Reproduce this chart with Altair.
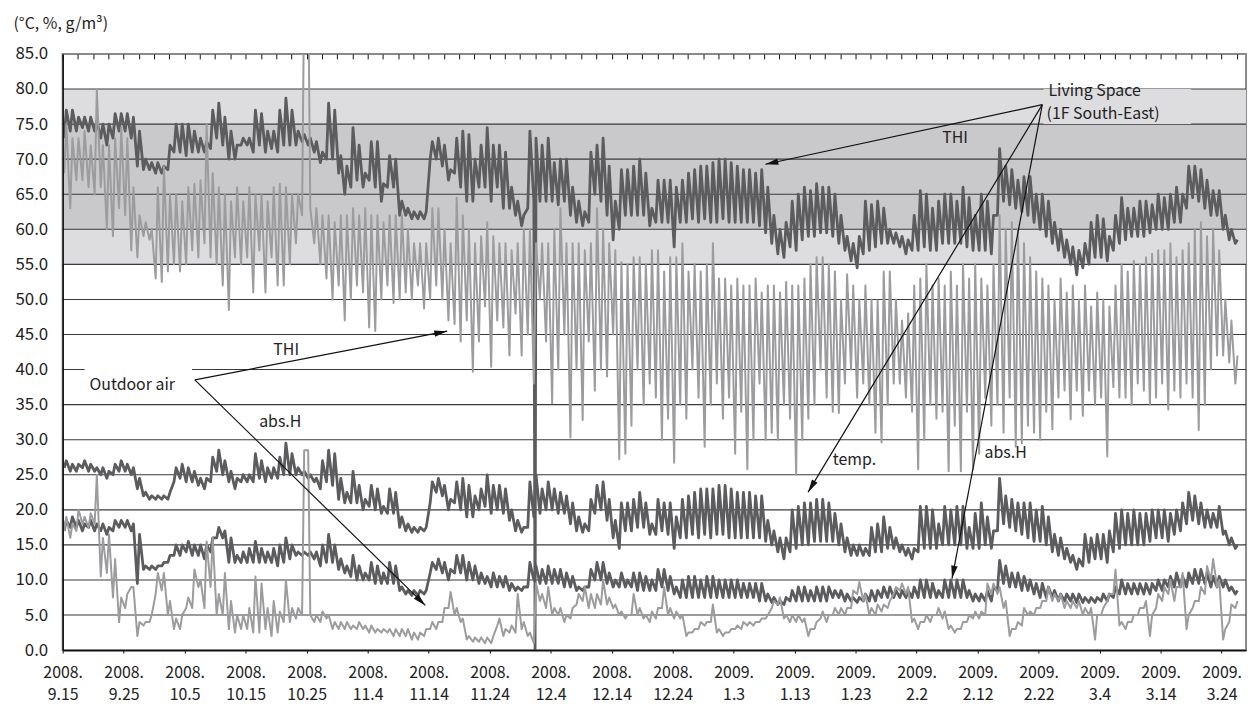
import json, math
import altair as alt
import pandas as pd

# ---------------- data ----------------
# day index 0 = 2008-09-15; two readings per day: early morning (am) and afternoon (pm)

LIV_THI_AM = [73, 74, 74, 74.5, 74, 74, 73, 72, 73, 74,
              74, 73, 69, 68.5, 68.5, 68, 68, 68.5, 71, 71,
              70.5, 71, 71, 71, 71.5, 73, 72, 70, 70, 72,
              72, 71, 72, 71, 71.5, 71, 72, 72, 72, 72.5,
              72, 71, 69.5, 70, 70, 68, 65, 66, 67, 66,
              67, 66, 64, 66, 66, 62, 62, 61.5, 61.5, 61.5,
              70, 70, 69, 67, 68, 66, 64, 64, 66, 66,
              64, 66, 63, 63, 62, 60.5, 63, 64, 64, 64,
              64, 63.5, 64, 62, 61, 60.5, 61, 65, 64, 62,
              58.5, 60, 62, 62, 62, 62, 60.5, 61, 61, 61,
              57.5, 61, 61, 61.5, 61, 61.5, 61, 61, 61.5, 61,
              61, 61, 61, 61, 60.5, 59.5, 58, 56.5, 56, 57.5,
              57, 58.5, 59, 59, 59.5, 59.5, 59, 58, 57, 55.5,
              54.5, 56.5, 57, 57.5, 58, 58, 58, 57.5, 56.5, 57,
              57, 57.5, 57, 57, 58, 58, 58, 58, 57.5, 57,
              57, 57, 56.5, 62, 64, 63.5, 63, 62.5, 62, 61,
              60, 59, 58, 57, 56, 55, 53.5, 54.5, 55, 56,
              56, 55.5, 57, 58, 58.5, 59, 59, 59, 59.5, 60,
              60, 60, 61, 61, 63, 64.5, 64, 63, 62, 62,
              60, 58.5, 58]
LIV_THI_PM = [77, 77, 76, 76, 76, 75.5, 75, 75, 76.5, 76.5,
              76.5, 76, 74, 70, 69.5, 69.5, 69, 72, 75, 75,
              75, 74, 73, 72.5, 77, 78, 76, 74, 72, 73,
              73, 77, 76.5, 74, 74, 77, 78.7, 77, 74, 73.5,
              73, 72.5, 71, 78, 77, 70.5, 69, 74.5, 72, 68,
              72.5, 72.5, 66.5, 70.5, 70, 64, 63, 62.5, 62.5, 62.5,
              72.5, 73, 72, 68.5, 73, 74, 73.5, 70, 72, 74.5,
              72, 72, 71, 66, 64, 62, 74, 73, 72, 73,
              69.5, 70, 70, 66, 64, 62.5, 71, 72, 73, 69,
              64, 68.5, 68.5, 69, 70, 68, 63, 67, 67, 67,
              66, 67, 68, 68.5, 69, 69, 69.5, 70, 70, 69.5,
              69, 68.5, 68.5, 68, 68.5, 66, 62, 60, 61, 64,
              65, 66, 65.5, 66.5, 66, 66, 65, 62, 59, 58,
              59, 64, 63.5, 64, 63, 60, 59.5, 59, 58.5, 62,
              65.5, 65, 63, 64, 65, 65, 64, 66, 64.5, 62,
              65, 64, 62, 71.5, 69, 68.5, 67, 67.5, 67.5, 65,
              65, 64, 61, 60, 58.5, 57.5, 57, 58, 61, 62,
              61.5, 59, 62, 64.5, 63, 63, 64, 64, 63.5, 65,
              64.5, 65, 66, 65, 69, 69, 68.5, 67, 65.5, 65.5,
              62, 60, 58.5]

OUT_THI_AM = [68, 63, 67, 67, 66, 65, 66, 60, 59, 63,
              62, 57, 56, 59, 58.5, 53, 52.5, 54, 55, 54,
              55, 57, 56, 58, 56, 55, 52, 48.5, 56, 55,
              56, 51, 57, 51, 56, 52, 52, 55, 58, 62,
              95, 58, 55, 53, 50, 52, 47, 50, 52, 51,
              46, 45.5, 50, 52, 49.5, 50, 51, 50, 52, 48.7,
              50, 52, 50, 47, 46.5, 44, 47, 39.7, 44, 49,
              40.4, 47, 46, 42, 48, 42, 45, 38, 50, 44,
              35.2, 40, 45, 30.3, 40, 32.8, 44, 37, 40, 39,
              45, 27.2, 28, 32, 40, 35, 38, 36, 30, 33,
              26.7, 35, 33, 40, 36, 29, 35, 38, 33, 36,
              28, 34, 25.8, 30, 38, 30, 31, 30, 35, 33,
              25, 30, 33, 35, 40, 36, 34, 33.8, 38, 40,
              36, 38, 35, 31, 29.6, 35, 38, 38, 36, 34,
              25.8, 30, 35, 33, 34, 25.5, 32, 25.5, 34, 25.8,
              28, 36, 32, 35, 31, 36, 29, 29.5, 32, 31,
              30, 34, 31.5, 36, 37, 32.9, 37, 33.4, 37, 35,
              36, 27.6, 37.5, 36, 36, 35, 38, 37, 35, 36,
              38, 34.3, 37, 36, 38, 36, 31.4, 35, 40, 42,
              42, 41, 38]
OUT_THI_PM = [75, 73, 73, 74, 72, 80, 72, 72, 73, 74.5,
              73, 66, 62, 61, 60, 66, 69, 65, 65, 64,
              66, 66.5, 67, 75, 68, 66, 65, 64, 66, 64,
              66, 65, 65, 64, 66, 66.5, 66, 65, 65, 95,
              63, 63, 62, 62, 61, 62, 62, 63, 62, 63,
              62, 62, 61, 62, 62, 62, 60, 58, 58, 58,
              63, 63, 60, 58, 64.5, 62, 60, 58, 59, 61,
              59, 58, 58, 57, 58, 60, 60, 58, 58, 58,
              60, 63, 58, 58, 58, 57, 58, 63, 60, 58,
              57, 55.3, 55, 56, 56, 55, 57, 57, 54, 56,
              56, 58, 54, 55, 54, 55, 58, 53, 53, 52,
              53, 52, 52, 53, 51, 52, 52, 51, 52.5, 52,
              52, 53, 55, 56, 56, 55, 54, 50, 53.6, 52,
              50, 52, 50, 49.9, 54, 54, 50, 47, 48, 52,
              53, 55, 52, 53, 52, 54, 52, 55, 53, 55,
              53, 52, 55, 62, 60, 61, 60, 58, 56, 54,
              53, 52, 50, 53, 51, 52, 50, 52, 49, 51,
              50, 49, 52, 55, 54, 55.5, 55, 56, 56.5, 57,
              57, 58, 56, 57, 58, 60, 61, 59, 60, 57,
              50, 47, 42]

LIV_T_AM = [26, 25.5, 25.5, 26, 25.5, 25.5, 25, 24.5, 25, 25.5,
            25.5, 25, 23, 22, 21.5, 21.5, 21.5, 21.5, 24, 24.5,
            24, 24, 23.5, 23, 24, 25.5, 25, 24, 23, 24,
            24, 24, 24.5, 24, 24.5, 24.5, 25, 25, 25, 25,
            24.5, 24, 23, 24, 23.5, 21.5, 21, 21, 21, 20,
            20.5, 20, 19.5, 19.5, 19.5, 17.5, 17, 16.8, 16.8, 17,
            21, 22.5, 22, 20, 21, 20, 19, 19, 20, 20.5,
            19.5, 20, 19.5, 18.5, 17, 16.8, 17.5, 19, 19.5, 20,
            20, 19.5, 19.5, 18, 17, 16.8, 17, 19.5, 20, 18.5,
            16, 14.5, 17, 17, 17.5, 17.5, 16.5, 16.5, 17, 16.5,
            14.5, 16, 16, 16.5, 16, 16.5, 16, 16.5, 16.5, 16,
            16, 16, 16, 16, 16, 15.5, 15, 14, 13, 14,
            14.5, 15, 15, 15.5, 15.5, 15.5, 15.5, 15, 14, 13.5,
            13.5, 13.5, 13.5, 14, 14, 14.5, 14.5, 14, 13.5, 13,
            14, 14.5, 14.5, 14.5, 15, 15, 15, 15, 14.5, 14.5,
            14.5, 15, 14.5, 17, 18, 17.5, 17, 16.5, 16, 15.5,
            15.5, 15, 14, 13.5, 13, 12.5, 11.5, 12, 12.5, 13,
            13, 12.5, 14, 14.5, 15, 15, 15, 15, 15.5, 16,
            16, 15.5, 16.5, 17, 18, 18.5, 18, 17.5, 17.5, 17.5,
            16.5, 15, 14.5]
LIV_T_PM = [27, 26.5, 26.5, 27, 26.5, 26, 26, 25.5, 26.5, 27,
            26.5, 26, 24.5, 22.5, 22, 22, 22, 22.5, 26, 26.5,
            26, 25.5, 24.5, 24.5, 27.5, 28.5, 27, 25.5, 24.5, 25,
            25, 28, 27, 26, 26, 27.5, 29.5, 28, 26, 25.5,
            25, 24.5, 27, 28.5, 28, 24.5, 22.5, 25.5, 23.5, 21.5,
            23.5, 23, 20.5, 23, 22.5, 19, 18, 17.5, 17.5, 17.5,
            24, 24.5, 23.5, 21.5, 24, 24.5, 23.5, 22, 23, 25,
            23.5, 23.5, 23, 20, 18.5, 17.5, 24, 25, 23, 24,
            23, 22.5, 22, 21, 19, 18, 21.5, 23.5, 24, 21.5,
            18.5, 21, 21, 21.5, 22.5, 21, 18, 21.5, 21, 21,
            19, 21.5, 22, 22.5, 23, 23, 23, 23.5, 23.5, 23,
            22.5, 22.5, 22.5, 22, 22, 18.5, 17, 16, 16, 20,
            20.5, 21, 21, 21.5, 21.5, 21, 19.5, 18, 16, 15,
            15, 14.5, 17.5, 18, 19, 17.5, 16, 15, 14.5, 14.5,
            20.5, 20.5, 20, 18, 20.5, 20, 20.5, 20.5, 17.5, 19.5,
            21, 19, 17, 24.5, 22, 21.5, 21, 21, 21, 20,
            20.5, 19, 16.5, 16, 14.5, 13.5, 13, 16.5, 16, 16.5,
            16.5, 17, 19.5, 20, 19.5, 20, 19.5, 19.5, 20, 20,
            20, 19.5, 20, 21, 22.5, 22, 21, 20, 19.5, 20.5,
            17, 16, 15]

LIV_AH_AM = [17, 17.5, 17.5, 17, 17.5, 17, 17, 16.5, 17, 17.5,
             17.5, 17, 9.5, 11.5, 11.5, 11.5, 12, 12.5, 13.5, 13.5,
             14, 13.5, 13.5, 13, 14, 16, 16, 12.5, 12.5, 12.5,
             12.5, 12.5, 12.5, 12.5, 12.5, 12, 12.5, 13, 13.5, 13.5,
             13.5, 13, 12, 12.5, 12.5, 11.5, 11, 10.5, 10, 10,
             10, 9.5, 9.5, 9.5, 9.5, 8.5, 8, 7.8, 7.8, 8,
             11, 11.5, 11, 10, 11, 11, 10, 10, 9.5, 9.5,
             9, 9, 9, 8.5, 8.5, 8.5, 9, 10, 9.5, 9.5,
             9.5, 9.5, 9, 9, 8.5, 8.5, 9, 10, 10, 9.5,
             9, 9, 9, 9, 8.5, 8.5, 8.5, 8.5, 9, 8.5,
             8, 7.5, 7.5, 7.5, 7.5, 7.5, 7.5, 7.5, 7.5, 7.5,
             7.5, 7.5, 7.5, 7.5, 7, 7, 6.8, 6.5, 6.5, 7,
             7, 7, 7, 7, 7, 7, 7.5, 7.5, 7, 7,
             6.8, 7, 7, 7, 7.5, 7.5, 7.5, 7.5, 7.5, 7.5,
             7.5, 7.5, 7.5, 7.5, 7.5, 7.5, 7.5, 7.5, 7.5, 7,
             7, 7, 7, 8.5, 9.5, 9, 9, 8.5, 8.5, 8,
             7.5, 7.5, 7.5, 7, 7, 7, 6.8, 6.8, 6.8, 6.8,
             7, 7, 7.5, 8, 8, 8, 8, 8, 8, 8.5,
             8.5, 9, 9, 9, 9, 9.5, 9.5, 9.5, 9, 9,
             9, 8.5, 8]
LIV_AH_PM = [18.5, 19, 18.5, 18, 18.5, 18, 18, 17.5, 18.5, 18.5,
             18.5, 18, 16.5, 12, 12, 12, 12.5, 13.5, 15, 15,
             15.5, 15, 15, 15, 16, 17.5, 17, 16, 13.5, 14,
             14.5, 15.5, 14.5, 14, 14.5, 15, 16, 15, 14, 14,
             14, 14, 15, 16.5, 15, 13, 12, 13.5, 12, 11,
             12.5, 12, 11, 12.5, 12, 9, 8.5, 8.5, 8.5, 8.5,
             12.5, 13, 12.5, 11.5, 13.5, 13.5, 12.5, 12, 11, 10.5,
             11, 10.5, 10.5, 9.5, 9, 9, 12.5, 12, 11.5, 12,
             11.5, 11.5, 11, 10.5, 9, 9, 11.5, 12.5, 12.5, 11,
             10, 11, 10, 11, 11, 10.5, 10, 11.5, 11.5, 10.5,
             9, 10, 10.5, 10.5, 10, 10.5, 10.5, 10, 10, 10,
             10, 9.5, 9.5, 9.5, 9.5, 8, 7.5, 7, 7.5, 8.5,
             9, 9, 8.5, 9, 9, 9, 8.5, 8.5, 8, 7.5,
             7.5, 8, 8.5, 8.5, 9, 9, 8.5, 8.5, 8.5, 9,
             10, 10, 9.5, 8.5, 10, 10, 10, 10, 8.5, 8,
             8, 8.5, 9, 12.8, 12, 11, 11, 10.5, 10, 9.5,
             9.5, 9, 8.5, 8, 8, 8, 8, 7.5, 7.5, 7.5,
             8, 8, 9, 10, 9.5, 9.5, 9.5, 9.5, 9.5, 10,
             10, 10.5, 11, 10.5, 11, 11.5, 11.5, 11, 10.5, 10.5,
             10, 9, 8.5]

OUT_AH_AM = [17, 16, 17, 18, 17.5, 18, 10.5, 11, 7.5, 4,
             6, 9, 2, 3.5, 4, 8, 8.5, 5, 3, 3,
             6, 6, 9, 6, 9, 5, 5, 3, 2.5, 3,
             3, 2.5, 2.5, 3, 2, 2.5, 4, 4, 4.5, 5,
             28.5, 4, 4, 4.5, 3, 3, 3, 3, 3, 3,
             2.5, 2.5, 2.5, 2.5, 2, 2, 2, 1.5, 1.5, 2,
             3, 3, 4, 6, 5, 4, 1.5, 1.2, 1.2, 1,
             1, 3.5, 2, 2.5, 2.5, 3, 2, 1, 7, 6,
             5, 5, 4, 4.5, 6.5, 7, 6, 6, 6.5, 6.5,
             6, 5, 4.5, 5, 5, 4.5, 4, 4.5, 6, 5,
             4.5, 4.5, 2, 2.5, 3, 3.5, 4, 2.5, 2, 2.5,
             3, 3, 3.5, 3.5, 4, 4.5, 6, 6.5, 4.5, 4,
             4, 4, 2, 3, 4.5, 4, 5, 5, 5, 6,
             8, 7, 5, 5, 5.5, 6, 8, 8.5, 8, 4,
             3, 4, 4, 5, 4.5, 3, 2.5, 3, 4, 4.5,
             4.5, 5, 8, 8, 6, 2, 3, 3.5, 5, 5,
             6, 7, 7, 7, 6, 6, 6, 5, 5, 1.5,
             5, 7, 8, 3.5, 3, 4, 5, 6, 2, 6,
             7, 8, 7, 9, 3, 6, 7, 8, 10, 9,
             1.5, 4, 6]
OUT_AH_PM = [19, 18, 20, 19, 19.5, 25, 16, 16.5, 13, 7.5,
             8, 9, 4, 4, 5, 11, 11, 7, 4.5, 5,
             7.5, 11.5, 10, 15.5, 16, 8, 11, 7, 5, 5,
             6, 10.5, 9.5, 6, 7, 5.5, 10, 6, 6, 28.5,
             5, 5, 5.5, 5, 4, 4, 4, 3.5, 4, 3.5,
             3.5, 3, 3, 3, 3, 3, 3, 2.5, 2.5, 3,
             4, 4, 6, 8.3, 6, 4.5, 2, 1.8, 1.8, 1.8,
             2, 4.5, 3, 3.5, 8, 4, 2.5, 9.5, 8, 9,
             6, 6, 5, 6, 8, 9, 8, 8, 10, 7.5,
             6.5, 5.5, 5, 8, 6, 5, 5.5, 6, 9, 6,
             5.5, 5, 2.5, 3, 4, 4, 6.5, 3, 2.5, 3,
             3.5, 4, 4, 4, 4.5, 5, 7, 7.5, 5, 5,
             5, 4.5, 3, 4, 5.5, 5, 6, 6, 6, 8.5,
             9.7, 8, 6, 6.5, 6.5, 7, 9, 9.5, 9, 4.5,
             4, 5, 5, 6, 5.5, 3.5, 3, 4, 5, 5.5,
             5.5, 9.5, 9.5, 9, 7, 3, 4, 6, 5.5, 6,
             7, 9, 8, 8, 7, 7, 7, 6, 6, 5,
             6, 8, 11.5, 4, 4, 5, 6, 7, 5, 8,
             9, 10, 9, 11, 5, 7, 9, 12, 13, 10,
             3, 6.5, 7]

# sensor drop-out on the living-space THI record (about 2008-12-01)
GLITCH_DAY = [77.45]
GLITCH_VAL = [0.0]

X_TICK_DAYS = [0, 10, 20, 30, 40, 50, 60, 70, 80, 90, 100, 110, 120, 130, 140, 150, 160, 170, 180, 190]
X_TICK_YEAR = ["2008."] * 11 + ["2009."] * 9
X_TICK_DATE = ["9.15", "9.25", "10.5", "10.15", "10.25", "11.4", "11.14", "11.24", "12.4",
               "12.14", "12.24", "1.3", "1.13", "1.23", "2.2", "2.12", "2.22", "3.4", "3.14", "3.24"]
MINOR_TICK_DAYS = [i * 2.5 for i in range(78)]
Y_TICKS = [0, 5, 10, 15, 20, 25, 30, 35, 40, 45, 50, 55, 60, 65, 70, 75, 80, 85]
GRID_VALUES = [5, 10, 15, 20, 25, 30, 35, 40, 45, 50, 55, 60, 65, 70, 75, 80]

BAND_LO = [55, 60]
BAND_HI = [80, 75]
BAND_FILL = ["#dddddf", "#c9c9cb"]

# annotation geometry (day index, value units)
BOX_X0 = [160.8, 3.6]
BOX_X1 = [185.0, 21.2]
BOX_Y0 = [75.0, 36.2]
BOX_Y1 = [80.0, 41.2]
BOX_FILL = ["#dddddf", "#ffffff"]

ARROW_X0 = [160.6, 160.6, 160.6, 21.67, 21.67]
ARROW_Y0 = [77.77, 77.77, 77.77, 38.53, 38.53]
ARROW_X1 = [115.2, 122.2, 145.8, 63.04, 59.46]
ARROW_Y1 = [69.27, 22.52, 10.2, 45.47, 6.37]

TXT_C_LABEL = ["THI", "THI", "abs.H", "temp.", "abs.H"]
TXT_C_X = [146.3, 36.65, 35.67, 129.8, 154.6]
TXT_C_Y = [72.96, 42.78, 32.58, 27.06, 28.05]
TXT_L_LABEL = ["Outdoor air", "Living Space", "(1F South-East)"]
TXT_L_X = [4.4, 161.6, 161.3]
TXT_L_Y = [37.82, 79.7, 76.4]

# ---------------- build tables ----------------
W, H = 1191, 600
XMAX, YMAX = 194, 85
FONT = "Noto Sans CJK JP"

series = {
    "liv_thi": (LIV_THI_AM, LIV_THI_PM),
    "liv_t": (LIV_T_AM, LIV_T_PM),
    "liv_ah": (LIV_AH_AM, LIV_AH_PM),
    "out_thi": (OUT_THI_AM, OUT_THI_PM),
    "out_ah": (OUT_AH_AM, OUT_AH_PM),
}
rows = []
for name, (am, pm) in series.items():
    for i, (a, p) in enumerate(zip(am, pm)):
        rows.append({"t": i + 0.25, "v": a, "s": name})
        rows.append({"t": i + 0.6, "v": p, "s": name})
for t, v in zip(GLITCH_DAY, GLITCH_VAL):
    rows.append({"t": t, "v": v, "s": "liv_thi"})
df = pd.DataFrame(rows)
liv_df = df[df.s.str.startswith("liv")]
out_df = df[df.s.str.startswith("out")]

bands_df = pd.DataFrame({"lo": BAND_LO, "hi": BAND_HI, "fill": BAND_FILL})
grid_df = pd.DataFrame({"v": GRID_VALUES})
box_df = pd.DataFrame({"x0": BOX_X0, "x1": BOX_X1, "y0": BOX_Y0, "y1": BOX_Y1, "fill": BOX_FILL})
arrow_df = pd.DataFrame({"x0": ARROW_X0, "y0": ARROW_Y0, "x1": ARROW_X1, "y1": ARROW_Y1})

sx, sy = W / XMAX, H / YMAX
HEAD = 13.0
heads = []
for x0, y0, x1, y1 in zip(ARROW_X0, ARROW_Y0, ARROW_X1, ARROW_Y1):
    dxp, dyp = (x1 - x0) * sx, -(y1 - y0) * sy
    L = math.hypot(dxp, dyp)
    ux, uy = dxp / L, dyp / L
    ang = math.degrees(math.atan2(ux, -uy)) % 360
    heads.append({"x": x1 - (HEAD / 2) * ux / sx, "y": y1 + (HEAD / 2) * uy / sy, "ang": ang})
head_df = pd.DataFrame(heads)

txt_c = pd.DataFrame({"x": TXT_C_X, "y": TXT_C_Y, "label": TXT_C_LABEL})
txt_l = pd.DataFrame({"x": TXT_L_X, "y": TXT_L_Y, "label": TXT_L_LABEL})

labels = [[y, d] for y, d in zip(X_TICK_YEAR, X_TICK_DATE)]
label_expr = json.dumps(labels) + "[round(datum.value/10)]"

xs = alt.Scale(domain=[0, XMAX], nice=False, zero=False)
ys = alt.Scale(domain=[0, YMAX], nice=False, zero=True)

x_main_axis = alt.Axis(values=X_TICK_DAYS, labelExpr=label_expr, labelFont=FONT, labelFontSize=16,
                       labelColor="#222222", labelLineHeight=22, labelPadding=12, labelBaseline="top",
                       labelOverlap=False, labelFlush=False, tickSize=3, tickColor="#111111",
                       domainColor="#111111", domainWidth=1.6, grid=False, title=None, zindex=1)
x_minor_axis = alt.Axis(values=MINOR_TICK_DAYS, labels=False, domain=False, ticks=True, tickSize=5,
                        tickColor="#111111", tickWidth=1, offset=-5, grid=False, title=None, zindex=1)
y_axis = alt.Axis(values=Y_TICKS, format=".1f", labelFont=FONT, labelFontSize=17, labelColor="#222222",
                  labelPadding=15, ticks=False, domainColor="#111111", domainWidth=1.6, grid=False,
                  title="(°C, %, g/m³)", titleAngle=0, titleX=-50, titleY=-31, titleAlign="left",
                  titleBaseline="middle", titleFont=FONT, titleFontSize=16, titleFontWeight="normal",
                  titleColor="#222222", zindex=1)

bands = alt.Chart(bands_df).mark_rect().encode(
    y=alt.Y("lo:Q", scale=ys, axis=None), y2="hi:Q", color=alt.Color("fill:N", scale=None))
grid = alt.Chart(grid_df).mark_rule(color="#3a3a3a", strokeWidth=1.1).encode(
    y=alt.Y("v:Q", scale=ys, axis=None))
boxes = alt.Chart(box_df).mark_rect().encode(
    x=alt.X("x0:Q", scale=xs, axis=None), x2="x1:Q",
    y=alt.Y("y0:Q", scale=ys, axis=None), y2="y1:Q", color=alt.Color("fill:N", scale=None))
liv = alt.Chart(liv_df).mark_line(color="#5c5c5f", strokeWidth=2.8, strokeJoin="round", clip=True).encode(
    x=alt.X("t:Q", scale=xs, axis=x_main_axis), y=alt.Y("v:Q", scale=ys, axis=y_axis),
    detail="s:N", order="t:Q")
out = alt.Chart(out_df).mark_line(color="#9c9c9e", strokeWidth=2, strokeJoin="round", clip=True).encode(
    x=alt.X("t:Q", scale=xs, axis=x_minor_axis), y=alt.Y("v:Q", scale=ys, axis=None),
    detail="s:N", order="t:Q")
arrows = alt.Chart(arrow_df).mark_rule(color="#111111", strokeWidth=1.2).encode(
    x=alt.X("x0:Q", scale=xs, axis=None), y=alt.Y("y0:Q", scale=ys, axis=None), x2="x1:Q", y2="y1:Q")
arrow_heads = alt.Chart(head_df).mark_point(shape="M0,-1L0.5,1L-0.5,1Z", filled=True, color="#111111",
                                            size=HEAD * HEAD, opacity=1).encode(
    x=alt.X("x:Q", scale=xs, axis=None), y=alt.Y("y:Q", scale=ys, axis=None),
    angle=alt.Angle("ang:Q", scale=None))
text_c = alt.Chart(txt_c).mark_text(font=FONT, fontSize=16, color="#222222", align="center",
                                    baseline="middle").encode(
    x=alt.X("x:Q", scale=xs, axis=None), y=alt.Y("y:Q", scale=ys, axis=None), text="label:N")
text_l = alt.Chart(txt_l).mark_text(font=FONT, fontSize=16, color="#222222", align="left",
                                    baseline="middle").encode(
    x=alt.X("x:Q", scale=xs, axis=None), y=alt.Y("y:Q", scale=ys, axis=None), text="label:N")

chart = alt.layer(bands, grid, boxes, liv, out, arrows, arrow_heads, text_c, text_l).resolve_axis(
    x="independent", y="independent"
).properties(
    width=W, height=H, autosize=alt.AutoSizeParams(type="none"),
    padding={"left": 55, "top": 44, "right": 6, "bottom": 56}
).configure_view(stroke="#8a8a8a", strokeWidth=2)

chart.save("out.html", embed_options={"renderer": "svg", "actions": False})
